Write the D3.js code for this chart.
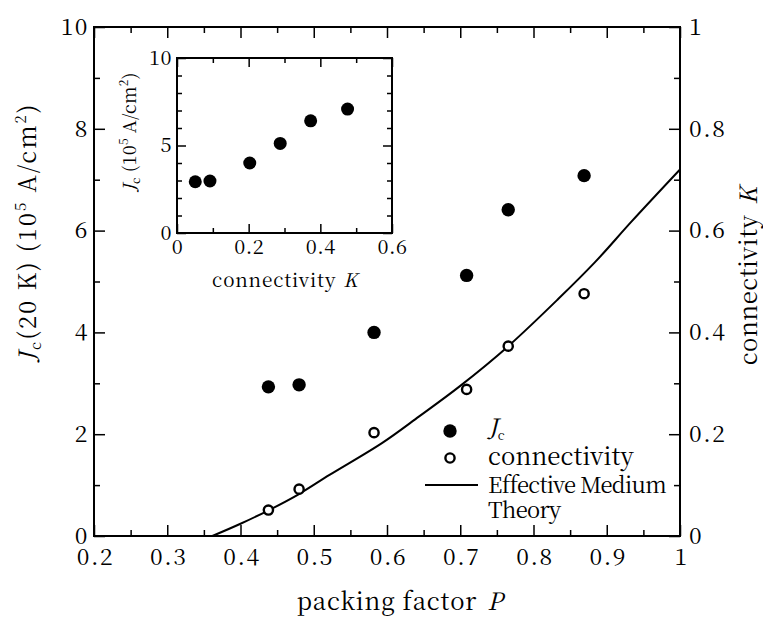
<!DOCTYPE html>
<html>
<head>
<meta charset="utf-8">
<script src="https://cdn.jsdelivr.net/npm/d3@7"></script>
<style>
  body { margin: 0; background: #fff; }
  svg { display: block; }
</style>
</head>
<body>
<div id="chart"></div>
<script>
// data
var packing = [0.4381, 0.4800, 0.5823, 0.7087, 0.7655, 0.8691];
var jc = [2.93, 2.97, 4.0, 5.12, 6.41, 7.08];
var connectivity = [0.051, 0.092, 0.203, 0.288, 0.373, 0.476];

// effective medium theory curve (P, K)
var emtP = [0.3616, 0.40, 0.4376, 0.4793, 0.5215, 0.5936, 0.6439, 0.70, 0.764, 0.834, 0.884, 0.934, 1.0];
var emtK = [0, 0.024, 0.05, 0.082, 0.12, 0.183, 0.235, 0.295, 0.371, 0.466, 0.538, 0.618, 0.72];

var xTicks = [0.2, 0.3, 0.4, 0.5, 0.6, 0.7, 0.8, 0.9, 1];
var jcTicks = [0, 2, 4, 6, 8, 10];
var kTicks = [0, 0.2, 0.4, 0.6, 0.8, 1];
var insetXTicks = [0, 0.2, 0.4, 0.6];
var insetYTicks = [0, 5, 10];

var width = 763, height = 619;
var m = {left: 94, right: 680, top: 27, bottom: 536};
var ins = {left: 177, right: 392, top: 58, bottom: 233};
var FONT = '"Noto Serif CJK JP", "Liberation Serif", serif';

var svg = d3.select('#chart').append('svg')
    .attr('width', width)
    .attr('height', height)
    .attr('font-family', FONT);

var x = d3.scaleLinear().domain([0.2, 1]).range([m.left, m.right]);
var y = d3.scaleLinear().domain([0, 10]).range([m.bottom, m.top]);
var k = d3.scaleLinear().domain([0, 1]).range([m.bottom, m.top]);

var fmt = d3.format('~g');

// helper: inward major + minor ticks
function ticks(axisFn, scale, majors, minors, major, minor, transform, pad, labels) {
  svg.append('g')
      .attr('transform', transform)
      .call(axisFn(scale).tickValues(minors).tickSize(-minor).tickSizeOuter(0).tickFormat(''))
      .call(g => g.select('.domain').remove())
      .selectAll('line').attr('stroke-width', 1.5);
  var g = svg.append('g')
      .attr('transform', transform)
      .call(axisFn(scale).tickValues(majors).tickSize(-major).tickSizeOuter(0)
        .tickPadding(pad).tickFormat(labels ? fmt : ''));
  g.select('.domain').remove();
  g.selectAll('line').attr('stroke-width', 1.5);
  g.attr('font-family', FONT).attr('font-size', null);
  return g;
}

// ---------- main plot ----------
var xMinor = d3.range(0.25, 1, 0.1);
var yMinor = d3.range(1, 10, 2);
var kMinor = d3.range(0.1, 1, 0.2);

var bottomAx = ticks(d3.axisBottom, x, xTicks, xMinor, 11, 6, 'translate(0,' + m.bottom + ')', 13, true);
bottomAx.selectAll('text').attr('font-size', 23).attr('letter-spacing', 1.5).attr('dx', 1);
ticks(d3.axisTop, x, xTicks, xMinor, 11, 6, 'translate(0,' + m.top + ')', 0, false);
var leftAx = ticks(d3.axisLeft, y, jcTicks, yMinor, 11, 6, 'translate(' + m.left + ',0)', 5, true);
leftAx.selectAll('text').attr('font-size', 23).attr('letter-spacing', 1.5);
var rightAx = ticks(d3.axisRight, k, kTicks, kMinor, 11, 6, 'translate(' + m.right + ',0)', 9, true);
rightAx.selectAll('text').attr('font-size', 23).attr('letter-spacing', 1.5);

svg.append('rect')
    .attr('x', m.left).attr('y', m.top)
    .attr('width', m.right - m.left).attr('height', m.bottom - m.top)
    .attr('fill', 'none').attr('stroke', '#000').attr('stroke-width', 2);

// EMT curve
svg.append('clipPath').attr('id', 'clipMain').append('rect')
    .attr('x', m.left).attr('y', m.top)
    .attr('width', m.right - m.left).attr('height', m.bottom - m.top);

var emt = emtP.map((p, i) => [p, emtK[i]]);
svg.append('path')
    .datum(emt)
    .attr('clip-path', 'url(#clipMain)')
    .attr('fill', 'none')
    .attr('stroke', '#000')
    .attr('stroke-width', 2)
    .attr('d', d3.line().x(d => x(d[0])).y(d => k(d[1])).curve(d3.curveCatmullRom));

// Jc points
svg.append('g').selectAll('circle')
    .data(packing)
    .enter().append('circle')
    .attr('cx', d => x(d))
    .attr('cy', (d, i) => y(jc[i]))
    .attr('r', 6.7)
    .attr('fill', '#000');

// connectivity points
svg.append('g').selectAll('circle')
    .data(packing)
    .enter().append('circle')
    .attr('cx', d => x(d))
    .attr('cy', (d, i) => k(connectivity[i]))
    .attr('r', 4.6)
    .attr('fill', '#fff')
    .attr('stroke', '#000')
    .attr('stroke-width', 2.4);

// axis titles
var xl = svg.append('text')
    .attr('x', 400).attr('y', 610)
    .attr('text-anchor', 'middle')
    .attr('font-size', 24).attr('letter-spacing', 0.8);
xl.append('tspan').text('packing factor');
xl.append('tspan').attr('font-style', 'italic').attr('dx', 10).text('P');

var yl = svg.append('text')
    .attr('transform', 'translate(36,232) rotate(-90)')
    .attr('text-anchor', 'middle')
    .attr('font-size', 24).attr('letter-spacing', 2);
yl.append('tspan').attr('font-style', 'italic').text('J');
yl.append('tspan').attr('font-size', 15).attr('dy', 5).text('c');
yl.append('tspan').attr('dy', -5).text('(20 K) (10');
yl.append('tspan').attr('font-size', 15).attr('dy', -10).text('5');
yl.append('tspan').attr('dy', 10).text(' A/cm');
yl.append('tspan').attr('font-size', 15).attr('dy', -10).text('2');
yl.append('tspan').attr('dy', 10).text(')');

var kl = svg.append('text')
    .attr('transform', 'translate(757,276) rotate(-90)')
    .attr('text-anchor', 'middle')
    .attr('font-size', 24).attr('letter-spacing', 0.5);
kl.append('tspan').text('connectivity');
kl.append('tspan').attr('font-style', 'italic').attr('dx', 10).text('K');

// legend
var lg = svg.append('g');
lg.append('circle').attr('cx', 450).attr('cy', 431).attr('r', 6.7).attr('fill', '#000');
lg.append('circle').attr('cx', 450).attr('cy', 458).attr('r', 4.6)
    .attr('fill', '#fff').attr('stroke', '#000').attr('stroke-width', 2.4);
lg.append('line').attr('x1', 425).attr('x2', 478).attr('y1', 485).attr('y2', 485)
    .attr('stroke', '#000').attr('stroke-width', 2);
var lj = lg.append('text').attr('x', 488).attr('y', 436).attr('font-size', 24);
lj.append('tspan').attr('font-style', 'italic').text('J');
lj.append('tspan').attr('font-size', 13).attr('dy', 4).text('c');
lg.append('text').attr('x', 488).attr('y', 465).attr('font-size', 24)
    .attr('letter-spacing', 0.1).text('connectivity');
lg.append('text').attr('x', 488).attr('y', 493).attr('font-size', 22)
    .attr('letter-spacing', -0.7).text('Effective Medium');
lg.append('text').attr('x', 488).attr('y', 518).attr('font-size', 22)
    .attr('letter-spacing', -0.7).text('Theory');

// ---------- inset ----------
var ix = d3.scaleLinear().domain([0, 0.6]).range([ins.left, ins.right]);
var iy = d3.scaleLinear().domain([0, 10]).range([ins.bottom, ins.top]);

var ixMinor = [0.1, 0.3, 0.5];
var iyMinor = [1, 2, 3, 4, 6, 7, 8, 9];

var ib = ticks(d3.axisBottom, ix, insetXTicks, ixMinor, 9, 5, 'translate(0,' + ins.bottom + ')', 7, true);
ib.selectAll('text').attr('font-size', 20).attr('letter-spacing', 0.5);
ticks(d3.axisTop, ix, insetXTicks, ixMinor, 9, 5, 'translate(0,' + ins.top + ')', 0, false);
var il = ticks(d3.axisLeft, iy, insetYTicks, iyMinor, 9, 5, 'translate(' + ins.left + ',0)', 5, true);
il.selectAll('text').attr('font-size', 20).attr('letter-spacing', 0.5);
ticks(d3.axisRight, iy, insetYTicks, iyMinor, 9, 5, 'translate(' + ins.right + ',0)', 0, false);

svg.append('rect')
    .attr('x', ins.left).attr('y', ins.top)
    .attr('width', ins.right - ins.left).attr('height', ins.bottom - ins.top)
    .attr('fill', 'none').attr('stroke', '#000').attr('stroke-width', 2);

svg.append('g').selectAll('circle')
    .data(connectivity)
    .enter().append('circle')
    .attr('cx', d => ix(d))
    .attr('cy', (d, i) => iy(jc[i]))
    .attr('r', 6.5)
    .attr('fill', '#000');

var ixl = svg.append('text')
    .attr('x', 285).attr('y', 287)
    .attr('text-anchor', 'middle')
    .attr('font-size', 19).attr('letter-spacing', 0.8);
ixl.append('tspan').text('connectivity');
ixl.append('tspan').attr('font-style', 'italic').attr('dx', 7).text('K');

var iyl = svg.append('text')
    .attr('transform', 'translate(136,132) rotate(-90)')
    .attr('text-anchor', 'middle')
    .attr('font-size', 18).attr('letter-spacing', 0.3);
iyl.append('tspan').attr('font-style', 'italic').text('J');
iyl.append('tspan').attr('font-size', 12).attr('dy', 4).text('c');
iyl.append('tspan').attr('dy', -4).text(' (10');
iyl.append('tspan').attr('font-size', 12).attr('dy', -8).text('5');
iyl.append('tspan').attr('dy', 8).text(' A/cm');
iyl.append('tspan').attr('font-size', 12).attr('dy', -8).text('2');
iyl.append('tspan').attr('dy', 8).text(')');
</script>
</body>
</html>
